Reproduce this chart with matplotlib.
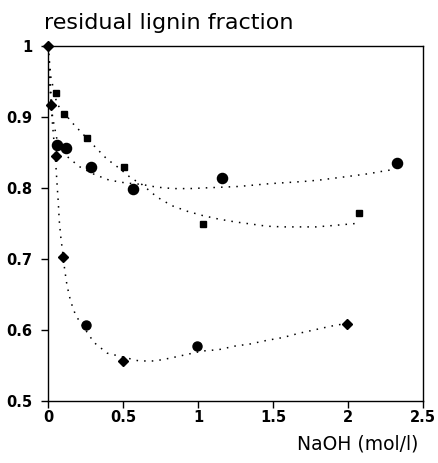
import numpy as np
import matplotlib
matplotlib.use("Agg")
import matplotlib.pyplot as plt

plt.rcParams["font.family"] = ["DejaVu Sans"]

# measured points (NaOH mol/l, residual lignin fraction)
circ_x = [0.058, 0.12, 0.285, 0.569, 1.158, 2.329]
circ_y = [0.861, 0.856, 0.830, 0.799, 0.814, 0.835]

sq_x = [0.055, 0.105, 0.258, 0.509, 1.031, 2.075]
sq_y = [0.934, 0.904, 0.870, 0.829, 0.749, 0.765]

dia_x = [0.0, 0.018, 0.051, 0.102, 0.498, 1.995]
dia_y = [1.0, 0.917, 0.845, 0.702, 0.556, 0.608]

# two more round points lying on the lowest curve
low_circ_x = [0.253, 0.995]
low_circ_y = [0.606, 0.577]

# dotted trend curves
fitA_x = [0.0, 0.03, 0.06, 0.129, 0.209, 0.309, 0.407, 0.516, 0.62, 0.727, 0.836,
          0.943, 1.05, 1.16, 1.271, 1.375, 1.482, 1.702, 1.809, 1.92, 2.031,
          2.138, 2.245, 2.307]
fitA_y = [1.0, 0.90, 0.868, 0.844, 0.830, 0.819, 0.811, 0.807, 0.805, 0.801, 0.799,
          0.799, 0.800, 0.801, 0.802, 0.804, 0.806, 0.809, 0.811, 0.814, 0.817,
          0.820, 0.824, 0.826]

fitB_x = [0.0, 0.02, 0.06, 0.165, 0.313, 0.391, 0.473, 0.553, 0.625, 0.727, 0.825,
          0.929, 1.031, 1.138, 1.248, 1.355, 1.458, 1.569, 1.68, 1.787, 1.903,
          2.01, 2.063]
fitB_y = [1.0, 0.955, 0.918, 0.891, 0.858, 0.841, 0.828, 0.814, 0.805, 0.787, 0.775,
          0.767, 0.761, 0.756, 0.752, 0.749, 0.746, 0.745, 0.745, 0.745, 0.747,
          0.749, 0.750]

fitC_x = [0.0, 0.01, 0.03, 0.05, 0.062, 0.069, 0.075, 0.085, 0.102, 0.111, 0.127,
          0.151, 0.185, 0.307, 0.395, 0.607, 0.713, 0.815, 0.922, 1.029, 1.14,
          1.247, 1.349, 1.458, 1.565, 1.673, 1.78, 1.885, 1.99]
fitC_y = [1.0, 0.95, 0.89, 0.840, 0.800, 0.778, 0.754, 0.731, 0.702, 0.685, 0.662,
          0.640, 0.620, 0.582, 0.567, 0.556, 0.556, 0.560, 0.565, 0.570, 0.572,
          0.577, 0.580, 0.585, 0.589, 0.595, 0.600, 0.605, 0.609]

xticks = [0, 0.5, 1, 1.5, 2, 2.5]
xticklabels = ["0", "0.5", "1", "1.5", "2", "2.5"]
yticks = [0.5, 0.6, 0.7, 0.8, 0.9, 1.0]
yticklabels = ["0.5", "0.6", "0.7", "0.8", "0.9", "1"]

fig = plt.figure(figsize=(4.38, 4.63), dpi=100)
ax = fig.add_axes([0.1096, 0.1346, 0.8562, 0.766])

dots = (0, (1, 4))
for fx, fy in [(fitA_x, fitA_y), (fitB_x, fitB_y), (fitC_x, fitC_y)]:
    ax.plot(fx, fy, color="black", linestyle=dots, linewidth=1.1)

ax.plot(circ_x, circ_y, "o", color="black", markersize=7.3)
ax.plot(low_circ_x, low_circ_y, "o", color="black", markersize=6.5)
ax.plot(sq_x, sq_y, "s", color="black", markersize=4.8)
ax.plot(dia_x, dia_y, "D", color="black", markersize=5, clip_on=False, zorder=5)

ax.set_xlim(0, 2.5)
ax.set_ylim(0.5, 1.0)
ax.set_xticks(xticks)
ax.set_xticklabels(xticklabels, fontsize=10.5, fontweight="bold")
ax.set_yticks(yticks)
ax.set_yticklabels(yticklabels, fontsize=10.5, fontweight="bold")
ax.tick_params(direction="out", length=5, width=1)
ax.tick_params(axis="x", pad=2)
ax.tick_params(axis="y", pad=6)
for s in ax.spines.values():
    s.set_linewidth(1)

fig.text(0.100, 0.950, "residual lignin fraction", fontsize=16, ha="left",
         va="center")
fig.text(0.955, 0.040, "NaOH (mol/l)", fontsize=13.5, ha="right", va="center")

plt.savefig("out.png", dpi=100)
